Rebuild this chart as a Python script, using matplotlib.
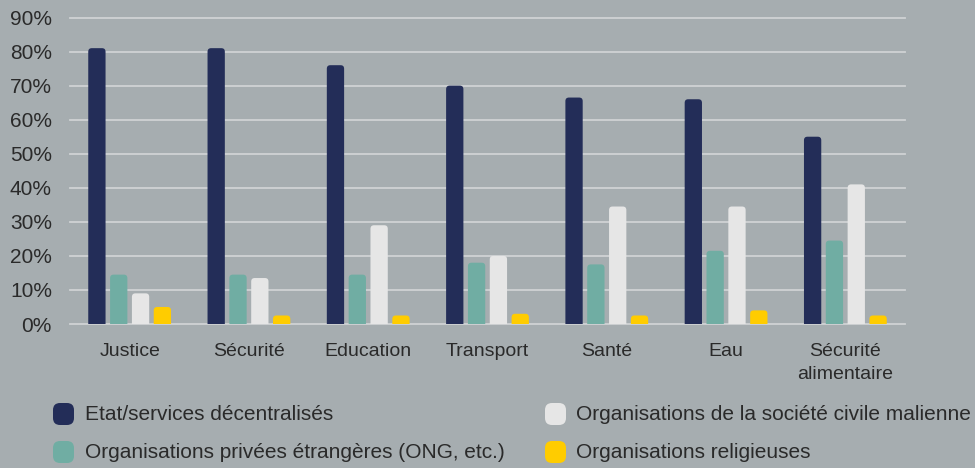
import numpy as np
import matplotlib
matplotlib.use('Agg')
import matplotlib.pyplot as plt
from matplotlib.patches import FancyBboxPatch
from matplotlib.transforms import IdentityTransform

categories = ['Justice', 'Sécurité', 'Education', 'Transport', 'Santé', 'Eau',
              'Sécurité\nalimentaire']
series_names = ['Etat/services décentralisés',
                'Organisations privées étrangères (ONG, etc.)',
                'Organisations de la société civile malienne',
                'Organisations religieuses']
etat = [81, 81, 76, 70, 66.5, 66, 55]
ong = [14.5, 14.5, 14.5, 18, 17.5, 21.5, 24.5]
osc = [9, 13.5, 29, 20, 34.5, 34.5, 41]
relig = [5, 2.5, 2.5, 3, 2.5, 4, 2.5]
yticks = [0, 10, 20, 30, 40, 50, 60, 70, 80, 90]

colors = ['#232d58', '#70ada3', '#e6e6e6', '#ffcc00']
bg = '#a6adb0'
txt = '#2a2a2a'

plt.rcParams.update({'font.family': ['Liberation Sans', 'DejaVu Sans']})

W, H = 975, 468
fig = plt.figure(figsize=(W / 100, H / 100), dpi=100, facecolor=bg)
ax = fig.add_axes([70 / W, 1 - 324 / H, 835 / W, (324 - 16.5) / H])
ax.set_facecolor(bg)

ymax = 90.3
ax.set_xlim(-0.5, len(categories) - 0.5)
ax.set_ylim(0, ymax)

# aspect fix so the rounded tops look round in pixels
ax_w = 835
ax_h = 324 - 16.5
x_px = ax_w / len(categories)
y_px = ax_h / ymax
rad = 3.5
rx = rad / x_px
aspect = (rad / y_px) / rx

step = 0.183
width = 0.145
x = np.arange(len(categories))
for k, (vals, c) in enumerate(zip([etat, ong, osc, relig], colors)):
    for xi, v in zip(x, vals):
        xc = xi + (k - 1.5) * step
        p = FancyBboxPatch((xc - width / 2, -3), width, v + 3,
                           boxstyle='round,pad=0,rounding_size=%f' % rx,
                           mutation_aspect=aspect, facecolor=c,
                           edgecolor='none', zorder=3)
        ax.add_patch(p)

for yv in yticks:
    ax.axhline(yv, color='#cfd2d4', lw=1.3, zorder=1, clip_on=False)

for s in ax.spines.values():
    s.set_visible(False)
ax.set_yticks(yticks)
ax.set_yticklabels(['%d%%' % t for t in yticks])
ax.set_xticks(x)
ax.set_xticklabels(categories, linespacing=1.4)
ax.tick_params(axis='y', length=0, pad=13, labelsize=15, labelcolor=txt)
ax.tick_params(axis='x', length=0, pad=14, labelsize=14, labelcolor=txt)

# legend drawn by hand: rounded swatches + text, in pixel coordinates
leg_x = [53, 545]
leg_txt_x = [85, 576]
leg_y = [414, 452]
for i, (name, c) in enumerate(zip(series_names, colors)):
    col, row = i // 2, i % 2
    yc = H - leg_y[row]
    sw = FancyBboxPatch((leg_x[col], yc - 11), 21, 22,
                        boxstyle='round,pad=0,rounding_size=7',
                        transform=IdentityTransform(), facecolor=c,
                        edgecolor='none')
    fig.patches.append(sw)
    fig.text(leg_txt_x[col] / W, yc / H, name, fontsize=15, color=txt,
             va='center', ha='left')

fig.savefig('out.png', dpi=100, facecolor=bg)
